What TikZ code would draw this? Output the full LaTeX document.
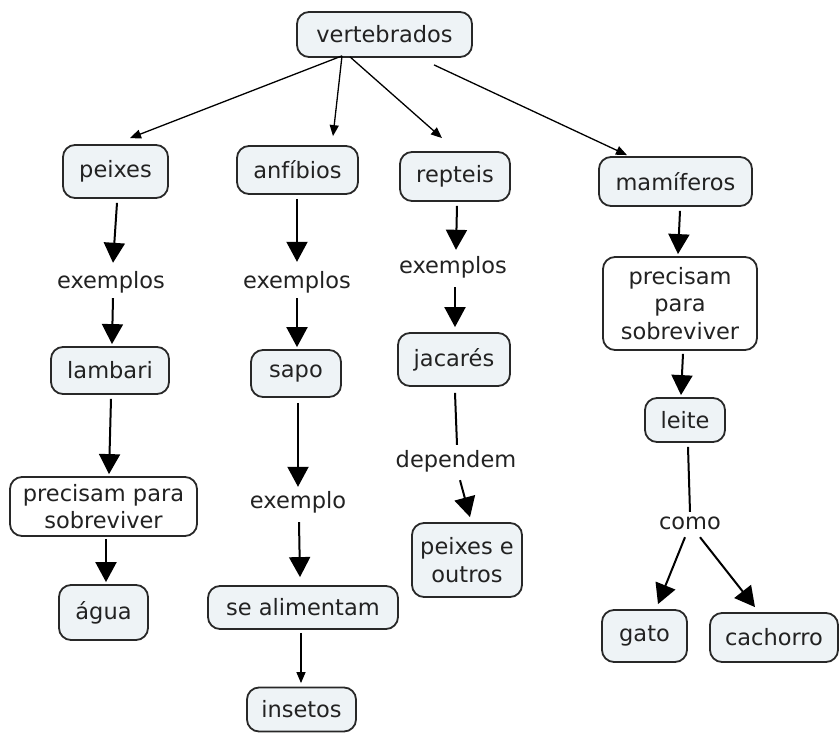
\documentclass[tikz,border=0pt]{standalone}
\usepackage{fontspec}
\setmainfont{DejaVu Sans}
\usetikzlibrary{arrows.meta,calc}
\definecolor{boxfill}{RGB}{238,243,246}
\definecolor{boxline}{RGB}{40,40,40}
\definecolor{ink}{RGB}{34,34,34}
\begin{document}
\begin{tikzpicture}[x=1pt,y=-1pt,
  every node/.style={font=\fontsize{22.5}{27.5}\selectfont, text=ink},
  sz/.style 2 args={minimum width=#1pt, minimum height=#2pt},
  concept/.style={draw=boxline, line width=1.8pt, rounded corners=12pt, fill=boxfill, inner sep=0pt, align=center},
  phrasebox/.style={concept, fill=white},
  phrase/.style={inner sep=0pt, text height=16pt, text depth=5pt},
  thinarrow/.style={draw=black, line width=1.3pt, -{Triangle[length=11pt,width=9pt]}},
  heavy/.style={draw=black, line width=2pt, -{Triangle[length=20pt,width=21pt]}},
  plain/.style={draw=black, line width=2pt},
]
\useasboundingbox (0,0) rectangle (839,733);

% concepts
\node[concept, sz={175}{45}] (vert) at (384.5,34.5) {vertebrados};
\node[concept, sz={105}{53}] (peixes) at (115.5,171.5) {peixes};
\node[concept, sz={121}{48}] (anf) at (297.5,170) {anfíbios};
\node[concept, sz={110}{49}] (rep) at (455,176.5) {repteis};
\node[concept, sz={153}{49}] (mam) at (675.5,181.5) {mamíferos};
\node[concept, sz={118}{47}] (lambari) at (110,370.5) {lambari};
\node[concept, sz={90}{47}] (sapo) at (296,373.5) {sapo};
\node[concept, sz={112}{53}] (jac) at (454,359.5) {jacarés};
\node[concept, sz={80}{44}] (leite) at (685,420) {leite};
\node[concept, sz={110}{74}] (pout) at (467,560) {peixes e\\outros};
\node[concept, sz={89}{55}] (agua) at (103.5,612.5) {água};
\node[concept, sz={190}{43}] (alim) at (303,607.5) {se alimentam};
\node[concept, sz={85}{52}] (gato) at (644.5,636) {gato};
\node[concept, sz={128}{49}] (cach) at (774,637.5) {cachorro};
\node[concept, sz={109}{44}] (ins) at (301.5,709.5) {insetos};

% linking phrases
\node[phrase] (ex1) at (111,283) {exemplos};
\node[phrase] (ex2) at (297,283) {exemplos};
\node[phrase] (ex3) at (453,268) {exemplos};
\node[phrase] (exo) at (298,503) {exemplo};
\node[phrase] (dep) at (456,462) {dependem};
\node[phrase] (como) at (690,524) {como};
\node[phrasebox, sz={154}{93}] (prec2) at (680,303.5) {precisam\\para\\sobreviver};
\node[phrasebox, sz={187}{59}] (prec1) at (103.5,506.5) {precisam para\\sobreviver};

% top level links
\draw[thinarrow] ($(vert.south)+(-42.5,-2)$) -- ($(peixes.north)+(14.5,-6)$);
\draw[thinarrow] ($(vert.south)+(-42.5,-2)$) -- ($(anf.north)+(35.5,-9)$);
\draw[thinarrow] ($(vert.south)+(-34.5,-1)$) -- ($(rep.north)+(-13,-13)$);
\draw[thinarrow] ($(vert.south)+(49.5,7)$) -- ($(mam.north)+(-48.5,-1)$);

% peixes branch
\draw[heavy] ($(peixes.south)+(1.5,4)$) -- ($(ex1.north)+(2,-9.5)$);
\draw[heavy] ($(ex1.south)+(2,4.5)$) -- ($(lambari.north)+(2,-2)$);
\draw[heavy] ($(lambari.south)+(1,4)$) -- ($(prec1.north)+(5.5,-2)$);
\draw[heavy] ($(prec1.south)+(2.5,2)$) -- ($(agua.north)+(2.5,-2)$);

% anfibios branch
\draw[heavy] ($(anf.south)+(-0.5,4)$) -- ($(ex2.north)+(0,-10.5)$);
\draw[heavy] ($(ex2.south)+(0,4.5)$) -- ($(sapo.north)+(1,-2)$);
\draw[heavy] ($(sapo.south)+(2,5)$) -- ($(exo.north)+(0,-5.5)$);
\draw[heavy] ($(exo.south)+(1,8.5)$) -- ($(alim.north)+(-3,-8)$);
\draw[thinarrow] ($(alim.south)+(-2,3)$) -- ($(ins.north)+(-0.5,-3.5)$);

% repteis branch
\draw[heavy] ($(rep.south)+(2,4)$) -- ($(ex3.north)+(3,-7.5)$);
\draw[heavy] ($(ex3.south)+(2,8.5)$) -- ($(jac.north)+(1,-5)$);
\draw[plain] ($(jac.south)+(1,6)$) -- ($(dep.north)+(1,-6.5)$);
\draw[heavy] ($(dep.south)+(4,7.5)$) -- ($(pout.north)+(3,-5)$);

% mamiferos branch
\draw[heavy] ($(mam.south)+(4.5,4)$) -- ($(prec2.north)+(-2,-2)$);
\draw[heavy] ($(prec2.south)+(3,3)$) -- ($(leite.north)+(-4,-2)$);
\draw[plain] ($(leite.south)+(3,4)$) -- ($(como.north)+(0,-1.5)$);
\draw[heavy] ($(como.south)+(-5,2.5)$) -- ($(gato.north)+(13.5,-5)$);
\draw[heavy] ($(como.south)+(10,2.5)$) -- ($(cach.north)+(-19,-5)$);
\end{tikzpicture}
\end{document}
